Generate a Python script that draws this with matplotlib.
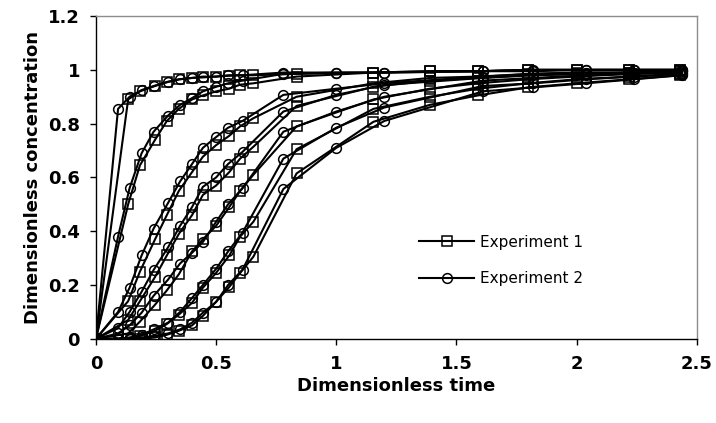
import matplotlib
matplotlib.use("Agg")
import matplotlib.pyplot as plt

# sampling times (dimensionless) for each experiment
t_exp1 = [0, 0.134, 0.183, 0.246, 0.295, 0.345, 0.40, 0.445, 0.50, 0.555, 0.60, 0.655,
          0.835, 1.155, 1.39, 1.59, 1.80, 2.00, 2.22, 2.43]
t_exp2 = [0, 0.092, 0.14, 0.19, 0.24, 0.30, 0.35, 0.40, 0.445, 0.50, 0.55, 0.61,
          0.78, 1.0, 1.2, 1.61, 1.82, 2.04, 2.24, 2.44]

# experiment 1 breakthrough curves
exp1_a = [0, 0.89, 0.92, 0.94, 0.955, 0.965, 0.97, 0.972, 0.975, 0.978, 0.98, 0.98, 0.985, 0.99, 0.995, 0.995, 1.0, 1.0, 1.0, 1.0]
exp1_b = [0, 0.50, 0.645, 0.74, 0.81, 0.855, 0.89, 0.905, 0.92, 0.93, 0.945, 0.95, 0.975, 0.99, 0.995, 0.995, 1.0, 1.0, 1.0, 1.0]
exp1_c = [0, 0.14, 0.25, 0.37, 0.46, 0.55, 0.62, 0.677, 0.72, 0.755, 0.79, 0.82, 0.90, 0.95, 0.97, 0.975, 0.985, 0.99, 0.99, 0.995]
exp1_d = [0, 0.07, 0.14, 0.23, 0.31, 0.39, 0.46, 0.535, 0.57, 0.62, 0.67, 0.714, 0.866, 0.937, 0.96, 0.97, 0.98, 0.985, 0.99, 0.995]
exp1_e = [0, 0.02, 0.064, 0.127, 0.18, 0.24, 0.325, 0.37, 0.42, 0.49, 0.55, 0.61, 0.79, 0.89, 0.93, 0.95, 0.965, 0.975, 0.985, 0.99]
exp1_f = [0, 0, 0.01, 0.03, 0.055, 0.09, 0.134, 0.19, 0.245, 0.31, 0.38, 0.435, 0.705, 0.855, 0.90, 0.93, 0.95, 0.965, 0.975, 0.985]
exp1_g = [0, 0, 0, 0.005, 0.015, 0.03, 0.05, 0.085, 0.138, 0.193, 0.245, 0.305, 0.615, 0.807, 0.87, 0.905, 0.935, 0.95, 0.965, 0.98]

# experiment 2 breakthrough curves
exp2_a = [0, 0.855, 0.90, 0.925, 0.94, 0.955, 0.965, 0.97, 0.975, 0.975, 0.98, 0.98, 0.99, 0.99, 0.99, 0.995, 0.995, 1.0, 1.0, 1.0]
exp2_b = [0, 0.38, 0.56, 0.69, 0.77, 0.83, 0.87, 0.895, 0.92, 0.937, 0.95, 0.96, 0.985, 0.99, 0.99, 0.995, 1.0, 1.0, 1.0, 1.0]
exp2_c = [0, 0.10, 0.19, 0.31, 0.41, 0.505, 0.585, 0.65, 0.71, 0.75, 0.785, 0.81, 0.907, 0.93, 0.95, 0.975, 0.985, 0.99, 0.99, 0.995]
exp2_d = [0, 0.04, 0.10, 0.175, 0.256, 0.34, 0.42, 0.49, 0.565, 0.60, 0.65, 0.695, 0.845, 0.907, 0.944, 0.97, 0.98, 0.985, 0.99, 0.995]
exp2_e = [0, 0.02, 0.05, 0.097, 0.16, 0.22, 0.28, 0.32, 0.36, 0.435, 0.50, 0.56, 0.77, 0.845, 0.90, 0.96, 0.97, 0.98, 0.985, 0.99]
exp2_f = [0, 0, 0.005, 0.015, 0.035, 0.06, 0.10, 0.152, 0.20, 0.26, 0.325, 0.395, 0.67, 0.785, 0.86, 0.94, 0.95, 0.965, 0.975, 0.985]
exp2_g = [0, 0, 0, 0.005, 0.01, 0.02, 0.035, 0.06, 0.097, 0.137, 0.20, 0.257, 0.557, 0.71, 0.81, 0.92, 0.935, 0.95, 0.965, 0.98]

exp1_runs = [exp1_a, exp1_b, exp1_c, exp1_d, exp1_e, exp1_f, exp1_g]
exp2_runs = [exp2_a, exp2_b, exp2_c, exp2_d, exp2_e, exp2_f, exp2_g]

x_ticks = [0, 0.5, 1, 1.5, 2, 2.5]
x_tick_labels = ["0", "0.5", "1", "1.5", "2", "2.5"]
y_ticks = [0, 0.2, 0.4, 0.6, 0.8, 1, 1.2]
y_tick_labels = ["0", "0.2", "0.4", "0.6", "0.8", "1", "1.2"]

fig = plt.figure(figsize=(7.16, 4.23), dpi=100)
ax = fig.add_axes([0.134, 0.199, 0.839, 0.763])

line_style = dict(color="black", lw=1.5, mfc="none", mec="black", mew=1.1)

for i, c in enumerate(exp1_runs):
    ax.plot(t_exp1, c, marker="s", ms=7.5, label="Experiment 1" if i == 0 else None, **line_style)
for i, c in enumerate(exp2_runs):
    ax.plot(t_exp2, c, marker="o", ms=7, label="Experiment 2" if i == 0 else None, **line_style)

ax.set_xlim(0, 2.5)
ax.set_ylim(0, 1.2)
ax.set_xticks(x_ticks)
ax.set_xticklabels(x_tick_labels, fontsize=13, fontweight="bold")
ax.set_yticks(y_ticks)
ax.set_yticklabels(y_tick_labels, fontsize=13, fontweight="bold")
ax.tick_params(direction="out", length=4.5, width=1, color="black")
ax.tick_params(axis="x", pad=7)
ax.tick_params(axis="y", pad=7)

for s in ["left", "bottom"]:
    ax.spines[s].set_color("black")
    ax.spines[s].set_linewidth(1)
for s in ["top", "right"]:
    ax.spines[s].set_color("#8c8c8c")
    ax.spines[s].set_linewidth(1)

ax.set_xlabel("Dimensionless time", fontsize=13, fontweight="bold", labelpad=3)
ax.set_ylabel("Dimensionless concentration", fontsize=13, fontweight="bold", labelpad=4)

leg = ax.legend(loc="upper left", bbox_to_anchor=(0.566, 0.478), bbox_transform=fig.transFigure,
                frameon=False, fontsize=11, handlelength=3.6, handletextpad=0.4, labelspacing=1.4)

fig.savefig("out.png", dpi=100)
